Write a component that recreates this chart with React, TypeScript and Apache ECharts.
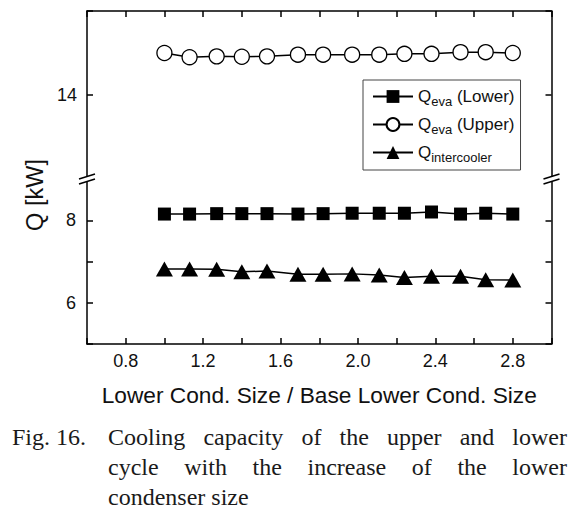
import React, { useEffect, useRef } from 'react';
import * as echarts from 'echarts';

// ---- data ----
const sizeRatio = [1.0, 1.13, 1.27, 1.4, 1.53, 1.69, 1.82, 1.97, 2.11, 2.24, 2.38, 2.53, 2.66, 2.8];
const qEvaLower = [8.15, 8.15, 8.16, 8.16, 8.16, 8.15, 8.16, 8.17, 8.17, 8.17, 8.2, 8.15, 8.17, 8.15];
const qEvaUpper = [15.0, 14.9, 14.92, 14.91, 14.92, 14.96, 14.96, 14.96, 14.96, 14.98, 14.98, 15.02, 15.02, 15.0];
const qIntercooler = [6.82, 6.82, 6.81, 6.75, 6.77, 6.69, 6.69, 6.7, 6.67, 6.61, 6.64, 6.64, 6.56, 6.55];

const xTickLabels = ['0.8', '1.2', '1.6', '2.0', '2.4', '2.8'];
const lowerYTickLabels = ['6', '8'];
const upperYTickLabels = ['14'];

const seriesNames = ['Q_eva (Lower)', 'Q_eva (Upper)', 'Q_intercooler'];
const legendRich: Record<string, string> = {
  'Q_eva (Lower)': '{q|Q}{s|eva}{q| (Lower)}',
  'Q_eva (Upper)': '{q|Q}{s|eva}{q| (Upper)}',
  'Q_intercooler': '{q|Q}{s|intercooler}',
};

const xAxisTitle = 'Lower Cond. Size / Base Lower Cond. Size';
const yAxisTitle = 'Q [kW]';
const captionLabel = 'Fig. 16.';
const captionLines = [
  'Cooling capacity of the upper and lower',
  'cycle with the increase of the lower',
  'condenser size',
];

// ---- layout ----
const W = 588;
const H = 513;
const PLOT_L = 87;
const PLOT_R = 551.5;
const PLOT_T = 11;
const PLOT_B = 344;
const BREAK_Y = 179;
const SANS = '"Liberation Sans", Arial, sans-serif';
const SERIF = '"Liberation Serif", "Times New Roman", serif';
const CAP_FONT = `24px ${SERIF}`;

function pairs(ys: number[]) {
  return sizeRatio.map((x, i) => [x, ys[i]]);
}

function measure(text: string, font: string): number {
  const c = document.createElement('canvas').getContext('2d');
  if (!c) return text.length * 10;
  c.font = font;
  return c.measureText(text).width;
}

function captionGraphics() {
  const out: any[] = [];
  const x0 = 108;
  const x1 = 567;
  const baseY = [437, 467, 497];
  out.push({
    type: 'text',
    x: 12,
    y: baseY[0],
    style: { text: captionLabel, font: CAP_FONT, fill: '#1a1a1a', align: 'left', verticalAlign: 'middle' },
  });
  captionLines.forEach((line, li) => {
    const words = line.split(' ');
    const justify = li < captionLines.length - 1;
    if (!justify) {
      out.push({
        type: 'text',
        x: x0,
        y: baseY[li],
        style: { text: line, font: CAP_FONT, fill: '#1a1a1a', align: 'left', verticalAlign: 'middle' },
      });
      return;
    }
    const widths = words.map((w) => measure(w, CAP_FONT));
    const total = widths.reduce((a, b) => a + b, 0);
    const gap = (x1 - x0 - total) / (words.length - 1);
    let cx = x0;
    words.forEach((w, wi) => {
      out.push({
        type: 'text',
        x: cx,
        y: baseY[li],
        style: { text: w, font: CAP_FONT, fill: '#1a1a1a', align: 'left', verticalAlign: 'middle' },
      });
      cx += widths[wi] + gap;
    });
  });
  return out;
}

function breakMarks() {
  const out: any[] = [];
  const c = BREAK_Y - 1;
  [PLOT_L, PLOT_R].forEach((x) => {
    out.push({
      type: 'polygon',
      z: 100,
      shape: { points: [[x - 8, c + 1], [x + 8, c - 4], [x + 8, c + 1], [x - 8, c + 6]] },
      style: { fill: '#fff', stroke: null },
    });
    out.push({
      type: 'line',
      z: 101,
      shape: { x1: x - 8, y1: c + 1, x2: x + 8, y2: c - 4 },
      style: { stroke: '#000', lineWidth: 1.5 },
    });
    out.push({
      type: 'line',
      z: 101,
      shape: { x1: x - 8, y1: c + 6, x2: x + 8, y2: c + 1 },
      style: { stroke: '#000', lineWidth: 1.5 },
    });
  });
  return out;
}

export default function App() {
  const ref = useRef<HTMLDivElement>(null);

  useEffect(() => {
    if (!ref.current) return;
    const chart = echarts.init(ref.current, undefined, { renderer: 'svg' });

    const axisLine = { show: true, onZero: false, lineStyle: { color: '#000', width: 1.5 } };
    const tick = { show: true, inside: true, length: 6, lineStyle: { color: '#000', width: 1.5 } };
    const labelFont = { fontFamily: SANS, fontSize: 18, color: '#111' };

    const xCommon = {
      type: 'value',
      min: 0.6,
      max: 3.0,
      interval: 0.2,
      axisLine,
      axisTick: tick,
      splitLine: { show: false },
    };

    const yLower = { type: 'value', gridIndex: 1, min: 5, max: 9, interval: 1, splitLine: { show: false }, axisLine, axisTick: tick };
    const yUpper = { type: 'value', gridIndex: 0, min: 12, max: 16, interval: 2, splitLine: { show: false }, axisLine, axisTick: tick };

    const option: any = {
      animation: false,
      backgroundColor: '#fff',
      grid: [
        { left: PLOT_L, top: PLOT_T, width: PLOT_R - PLOT_L, height: BREAK_Y - PLOT_T },
        { left: PLOT_L, top: BREAK_Y, width: PLOT_R - PLOT_L, height: PLOT_B - BREAK_Y },
      ],
      xAxis: [
        { ...xCommon, gridIndex: 0, position: 'top', axisLabel: { show: false } },
        {
          ...xCommon,
          gridIndex: 1,
          position: 'bottom',
          axisLabel: {
            ...labelFont,
            margin: 8,
            formatter: (v: number) => {
              const s = v.toFixed(1);
              return xTickLabels.includes(s) ? s : '';
            },
          },
          name: xAxisTitle,
          nameLocation: 'middle',
          nameGap: 39,
          nameTextStyle: { fontFamily: SANS, fontSize: 22.7, color: '#111' },
        },
      ],
      yAxis: [
        {
          ...yUpper,
          position: 'left',
          axisLabel: {
            ...labelFont,
            margin: 10,
            formatter: (v: number) => (upperYTickLabels.includes(String(v)) ? String(v) : ''),
          },
        },
        { ...yUpper, position: 'right', axisLabel: { show: false } },
        {
          ...yLower,
          position: 'left',
          axisLabel: {
            ...labelFont,
            margin: 11,
            formatter: (v: number) => (lowerYTickLabels.includes(String(v)) ? String(v) : ''),
          },
        },
        { ...yLower, position: 'right', axisLabel: { show: false } },
      ],
      legend: {
        orient: 'vertical',
        left: 363,
        top: 80,
        padding: [8, 6, 6, 9],
        itemGap: 8,
        itemWidth: 40,
        itemHeight: 16,
        borderColor: '#444',
        borderWidth: 1,
        data: seriesNames,
        formatter: (name: string) => legendRich[name] || name,
        textStyle: {
          color: '#111',
          fontFamily: SANS,
          fontSize: 17,
          rich: {
            q: { fontSize: 17, fontFamily: SANS, color: '#111' },
            s: { fontSize: 13, fontFamily: SANS, color: '#111', padding: [10, 0, 0, 0] },
          },
        },
      },
      series: [
        {
          name: seriesNames[0],
          type: 'line',
          xAxisIndex: 1,
          yAxisIndex: 2,
          data: pairs(qEvaLower),
          symbol: 'rect',
          symbolSize: 13,
          itemStyle: { color: '#000' },
          lineStyle: { color: '#000', width: 1.5 },
        },
        {
          name: seriesNames[1],
          type: 'line',
          xAxisIndex: 0,
          yAxisIndex: 0,
          data: pairs(qEvaUpper),
          symbol: 'circle',
          symbolSize: 15,
          itemStyle: { color: '#fff', borderColor: '#000', borderWidth: 1.3 },
          lineStyle: { color: '#000', width: 1.5 },
        },
        {
          name: seriesNames[2],
          type: 'line',
          xAxisIndex: 1,
          yAxisIndex: 2,
          data: pairs(qIntercooler),
          symbol: 'triangle',
          symbolSize: [17, 15],
          itemStyle: { color: '#000' },
          lineStyle: { color: '#000', width: 1.5 },
        },
      ],
      graphic: [
        ...breakMarks(),
        {
          type: 'text',
          x: 35,
          y: 195,
          rotation: Math.PI / 2,
          style: { text: yAxisTitle, font: `23.5px ${SANS}`, fill: '#111', align: 'center', verticalAlign: 'middle' },
        },
        ...captionGraphics(),
      ],
    };

    chart.setOption(option);
    return () => chart.dispose();
  }, []);

  return (
    <div
      ref={ref}
      style={{ position: 'fixed', left: 0, top: 0, width: W, height: H, background: '#fff' }}
    />
  );
}
